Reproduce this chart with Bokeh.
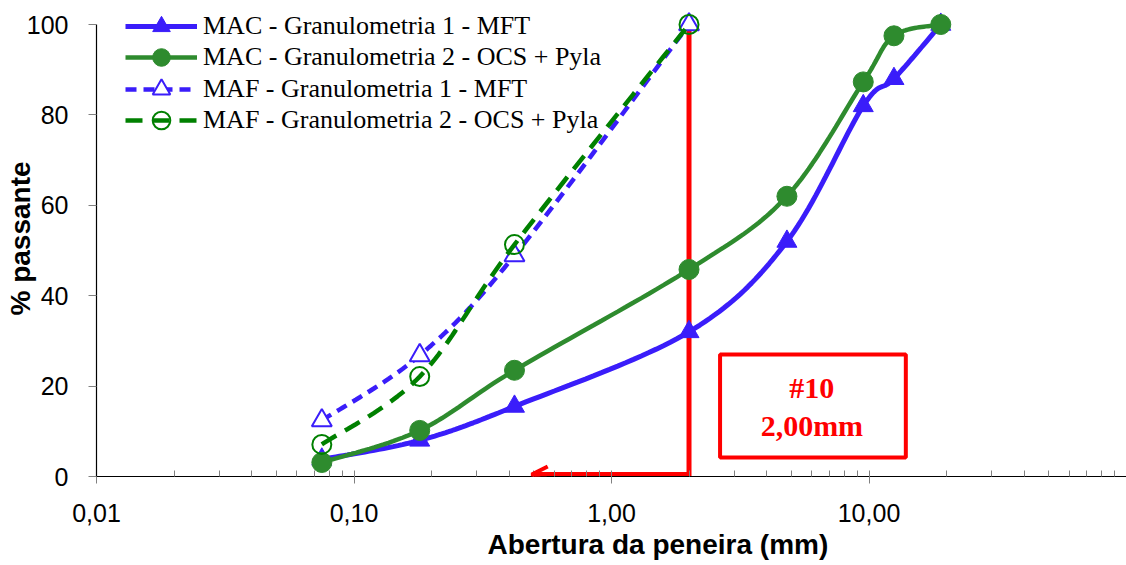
import math

from bokeh.embed import file_html
from bokeh.models import (Arrow, BoxAnnotation, CustomJSTickFormatter, FixedTicker,
                          Label, Legend, LegendItem, OpenHead, Title)
from bokeh.plotting import figure
from bokeh.resources import INLINE

# Sieve openings (mm) and cumulative % passing
mac_sieves = [0.075, 0.18, 0.42, 2.0, 4.8, 9.5, 12.5, 19.0]
mac_gran1 = [3.8, 8.0, 15.5, 32.0, 52.0, 82.0, 88.0, 100.0]
mac_gran2 = [3.1, 10.2, 23.5, 45.8, 62.0, 87.3, 97.5, 100.0]

maf_sieves = [0.075, 0.18, 0.42, 2.0]
maf_gran1 = [12.4, 26.8, 48.9, 100.0]
maf_gran2 = [7.1, 22.1, 51.3, 100.0]

series_names = [
    "MAC - Granulometria 1 - MFT",
    "MAC - Granulometria 2 - OCS + Pyla",
    "MAF - Granulometria 1 - MFT",
    "MAF - Granulometria 2 - OCS + Pyla",
]

x_major_ticks = [0.01, 0.1, 1, 10]
y_ticks = [0, 20, 40, 60, 80, 100]

# Reference sieve (#10)
sieve_label = ["#10", "2,00mm"]
sieve_mm = 2.0

BLUE = "#3A1DFA"
GREEN = "#2E8B2E"
DGREEN = "#008000"
RED = "#FF0000"


def smooth_path(xs, ys, steps=24):
    """Smoothed polyline (cubic Bezier through every point, spreadsheet style)
    computed in log-x space so the curve follows the axis scale."""
    u = [math.log10(v) for v in xs]
    v = list(ys)
    n = len(u)
    out_x, out_y = [], []
    for i in range(n - 1):
        p0 = (u[max(i - 1, 0)], v[max(i - 1, 0)])
        p1 = (u[i], v[i])
        p2 = (u[i + 1], v[i + 1])
        p3 = (u[min(i + 2, n - 1)], v[min(i + 2, n - 1)])
        c1 = (p1[0] + (p2[0] - p0[0]) / 6, p1[1] + (p2[1] - p0[1]) / 6)
        c2 = (p2[0] - (p3[0] - p1[0]) / 6, p2[1] - (p3[1] - p1[1]) / 6)
        for k in range(steps + (1 if i == n - 2 else 0)):
            t = k / steps
            a = (1 - t) ** 3
            b = 3 * (1 - t) ** 2 * t
            c = 3 * (1 - t) * t ** 2
            d = t ** 3
            out_x.append(10 ** (a * p1[0] + b * c1[0] + c * c2[0] + d * p2[0]))
            out_y.append(a * p1[1] + b * c1[1] + c * c2[1] + d * p2[1])
    return out_x, out_y


# the frame reaches the top edge so the legend has room; the y axis line stops at 100
p = figure(
    width=1126, height=565,
    x_axis_type="log", x_range=(0.01, 100), y_range=(0, 105.31),
    output_backend="svg", toolbar_location=None,
    min_border_left=96, min_border_right=0, min_border_top=0, min_border_bottom=89,
)
p.title.visible = False
p.grid.visible = False
p.outline_line_color = None
p.background_fill_color = "white"

# --- axes ---
xa = p.xaxis[0]
xa.ticker = FixedTicker(
    ticks=x_major_ticks,
    minor_ticks=[m * 10 ** e for e in range(-2, 2) for m in range(2, 10)],
)
xa.formatter = CustomJSTickFormatter(code="return tick.toFixed(2).replace('.', ',');")
xa.axis_line_color = "black"
xa.axis_line_width = 1.2
xa.major_tick_line_color = "#808080"
xa.minor_tick_line_color = "#808080"
xa.major_tick_in = 6
xa.major_tick_out = 7
xa.minor_tick_in = 6
xa.minor_tick_out = 0
xa.major_label_text_font = "Liberation Sans"
xa.major_label_text_font_size = "25px"
xa.major_label_text_color = "black"
xa.major_label_standoff = 20

ya = p.yaxis[0]
ya.ticker = FixedTicker(ticks=y_ticks)
ya.bounds = (0, 100)
ya.axis_line_color = "black"
ya.axis_line_width = 1.2
ya.major_tick_line_color = "#808080"
ya.major_tick_in = 0
ya.major_tick_out = 8
ya.minor_tick_in = 0
ya.minor_tick_out = 0
ya.major_label_text_font = "Liberation Sans"
ya.major_label_text_font_size = "25px"
ya.major_label_text_color = "black"
ya.major_label_standoff = 20
ya.axis_label = "% passante"
ya.axis_label_text_font = "Liberation Sans"
ya.axis_label_text_font_style = "bold"
ya.axis_label_text_font_size = "28px"
ya.axis_label_text_color = "black"
ya.axis_label_standoff = -12

p.add_layout(Title(text="Abertura da peneira (mm)", align="left", offset=391,
                   standoff=5, text_font="Liberation Sans", text_font_style="bold",
                   text_font_size="28px", text_color="black"), "below")

# --- #10 sieve marker: vertical line, then back along the axis with an arrow head ---
p.line([sieve_mm, sieve_mm, 0.5], [100.4, 0.44, 0.44], line_color=RED, line_width=5,
       line_join="miter")
p.add_layout(Arrow(x_start=0.56, y_start=0.44, x_end=0.49, y_end=0.44,
                   line_color=RED, line_width=4,
                   end=OpenHead(size=16, line_color=RED, line_width=4)))

# --- series ---
sx, sy = smooth_path(mac_sieves, mac_gran1)
l1 = p.line(sx, sy, line_color=BLUE, line_width=5)
m1 = p.scatter(mac_sieves, mac_gran1, marker="triangle", size=20,
               fill_color=BLUE, line_color=BLUE)

sx, sy = smooth_path(mac_sieves, mac_gran2)
l2 = p.line(sx, sy, line_color=GREEN, line_width=4.5)
m2 = p.scatter(mac_sieves, mac_gran2, marker="circle", size=20,
               fill_color=GREEN, line_color=GREEN)

sx, sy = smooth_path(maf_sieves, maf_gran1)
l3 = p.line(sx, sy, line_color=BLUE, line_width=4.5, line_dash="11 7")
m3 = p.scatter(maf_sieves, maf_gran1, marker="triangle", size=20,
               fill_color="white", line_color=BLUE, line_width=2)

sx, sy = smooth_path(maf_sieves, maf_gran2)
l4 = p.line(sx, sy, line_color=DGREEN, line_width=4.5, line_dash="17 10")
m4 = p.scatter(maf_sieves, maf_gran2, marker="circle", size=19,
               fill_alpha=0, line_color=DGREEN, line_width=2)

# one legend per row so the legend markers keep a readable size at a tight row pitch
row_bottoms = [428, 397, 365, 334]
for name, rends, yb in zip(series_names, [[l1, m1], [l2, m2], [l3, m3], [l4, m4]], row_bottoms):
    p.add_layout(Legend(
        items=[LegendItem(label=name, renderers=rends)],
        location=(29, yb),
        glyph_width=72, glyph_height=44, label_standoff=6,
        padding=0, margin=0,
        label_text_font="Liberation Serif", label_text_font_size="26px",
        label_text_color="black", label_height=20,
        border_line_color=None, background_fill_alpha=0,
    ))

# --- annotation box ---
p.add_layout(BoxAnnotation(left=2.64, right=13.9, bottom=4.2, top=27.0,
                           fill_alpha=0, line_color=RED, line_alpha=1, line_width=4))
p.add_layout(Label(x=6.0, y=19.7, text=sieve_label[0], text_align="center",
                   text_baseline="middle", text_font="Liberation Serif",
                   text_font_style="bold", text_font_size="30px", text_color=RED))
p.add_layout(Label(x=6.0, y=11.3, text=sieve_label[1], text_align="center",
                   text_baseline="middle", text_font="Liberation Serif",
                   text_font_style="bold", text_font_size="30px", text_color=RED))

open("out.html", "w").write(file_html(p, INLINE))
